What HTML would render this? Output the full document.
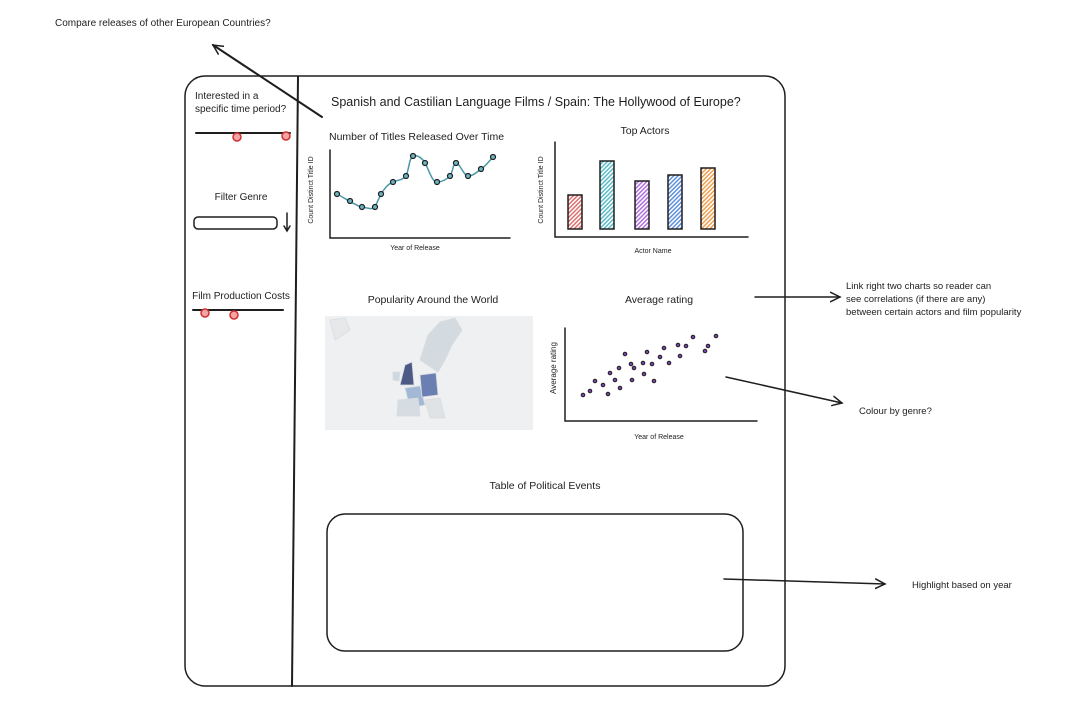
<!DOCTYPE html>
<html><head><meta charset="utf-8"><style>
body{margin:0;background:#fff;}
svg{display:block}
text{font-family:"Liberation Sans",sans-serif;fill:#1e1e1e}
</style></head><body>
<svg width="1081" height="726" viewBox="0 0 1081 726" xmlns="http://www.w3.org/2000/svg">
<defs>
<marker id="ah" markerWidth="12" markerHeight="12" refX="10" refY="6" orient="auto" markerUnits="userSpaceOnUse">
<path d="M0,1 L10,6 L0,11" fill="none" stroke="#1e1e1e" stroke-width="1.5"/></marker>
<pattern id="p1" width="3" height="3" patternUnits="userSpaceOnUse" patternTransform="rotate(45)"><rect width="3" height="3" fill="#fff"/><rect width="1.5" height="3" fill="#e07070"/></pattern>
<pattern id="p2" width="3" height="3" patternUnits="userSpaceOnUse" patternTransform="rotate(45)"><rect width="3" height="3" fill="#fff"/><rect width="1.5" height="3" fill="#5cbcc8"/></pattern>
<pattern id="p3" width="3" height="3" patternUnits="userSpaceOnUse" patternTransform="rotate(45)"><rect width="3" height="3" fill="#fff"/><rect width="1.5" height="3" fill="#b070e0"/></pattern>
<pattern id="p4" width="3" height="3" patternUnits="userSpaceOnUse" patternTransform="rotate(45)"><rect width="3" height="3" fill="#fff"/><rect width="1.5" height="3" fill="#6090e0"/></pattern>
<pattern id="p5" width="3" height="3" patternUnits="userSpaceOnUse" patternTransform="rotate(45)"><rect width="3" height="3" fill="#fff"/><rect width="1.5" height="3" fill="#f0a050"/></pattern>
</defs>
<g fill="none" stroke="#1e1e1e" stroke-width="1.5" stroke-linecap="round">
<rect x="185" y="76" width="600" height="610" rx="20"/>
<path d="M298,77 L292,686" stroke-width="2"/>
<path d="M322,117 L213,45" marker-end="url(#ah)" stroke-width="2"/>
<path d="M196,133 L290,133" stroke-width="2"/>
<path d="M193,310 L283,310" stroke-width="2"/>
<rect x="194" y="217" width="83" height="12" rx="4"/>
<path d="M287,213 L287,231 M284,226 L287,231 L290,226"/>
<path d="M330,150 L330,238 L510,238"/>
<path d="M337,194 C343,197 356,206 362,207 C368,208 372,210 375,207 L381,194 C385,188 388,184 393,182 C398,180 403,180 406,176 C409,170 409,158 413,156 C418,155 422,158 425,163 C429,170 432,182 437,182 C442,182 446,180 450,176 C453,172 453,163 456,163 C460,163 463,175 468,176 C473,176 477,172 481,169 C486,166 490,160 493,157" stroke="#4a98a8" stroke-width="1.5"/>
<path d="M555,142 L555,237 L748,237"/>
<path d="M565,328 L565,421 L757,421"/>
<rect x="327" y="514" width="416" height="137" rx="18"/>
<path d="M755,297 L840,297" marker-end="url(#ah)"/>
<path d="M726,377 L842,403" marker-end="url(#ah)"/>
<path d="M724,579 L885,584" marker-end="url(#ah)"/>
</g>
<g fill="#f2a5a5" stroke="#d03030" stroke-width="1.5">
<circle cx="237" cy="137" r="4"/><circle cx="286" cy="136" r="4"/>
<circle cx="205" cy="313" r="4"/><circle cx="234" cy="315" r="4"/>
</g>
<g fill="#6cb5c5" stroke="#1e1e1e" stroke-width="1.2">
<circle cx="337" cy="194" r="2.5"/><circle cx="350" cy="201" r="2.5"/><circle cx="362" cy="207" r="2.5"/><circle cx="375" cy="207" r="2.5"/><circle cx="381" cy="194" r="2.5"/><circle cx="393" cy="182" r="2.5"/><circle cx="406" cy="176" r="2.5"/><circle cx="413" cy="156" r="2.5"/><circle cx="425" cy="163" r="2.5"/><circle cx="437" cy="182" r="2.5"/><circle cx="450" cy="176" r="2.5"/><circle cx="456" cy="163" r="2.5"/><circle cx="468" cy="176" r="2.5"/><circle cx="481" cy="169" r="2.5"/><circle cx="493" cy="157" r="2.5"/>
</g>
<g stroke="#1e1e1e" stroke-width="1.5">
<rect x="568" y="195" width="14" height="34" fill="url(#p1)"/>
<rect x="600" y="161" width="14" height="68" fill="url(#p2)"/>
<rect x="635" y="181" width="14" height="48" fill="url(#p3)"/>
<rect x="668" y="175" width="14" height="54" fill="url(#p4)"/>
<rect x="701" y="168" width="14" height="61" fill="url(#p5)"/>
</g>
<rect x="325" y="316" width="208" height="114" fill="#eef0f1"/>
<g stroke="#d8dcdf" stroke-width="0.8">
<path d="M420,360 L428,335 L440,322 L455,318 L462,330 L452,345 L445,360 L438,372 Z" fill="#d3dbe0"/>
<path d="M330,320 L345,318 L350,330 L335,340 Z" fill="#e6e8ea"/>
<path d="M405,388 L420,386 L425,405 L410,408 Z" fill="#a2b8d4"/>
<path d="M400,385 L405,365 L412,362 L414,385 Z" fill="#4d5a85"/>
<path d="M393,372 L400,372 L399,381 L393,380 Z" fill="#d0d8df"/>
<path d="M420,375 L436,373 L438,395 L422,397 Z" fill="#6b7fb3"/>
<path d="M398,400 L418,398 L420,416 L397,416 Z" fill="#d5dde3"/>
<path d="M425,400 L440,398 L445,418 L430,418 Z" fill="#dfe3e6"/>
</g>
<g fill="#7b3fb0" stroke="#1e1e1e" stroke-width="1">
<circle cx="583" cy="395" r="1.8"/><circle cx="590" cy="391" r="1.8"/><circle cx="595" cy="381" r="1.8"/><circle cx="603" cy="385" r="1.8"/><circle cx="608" cy="394" r="1.8"/><circle cx="610" cy="373" r="1.8"/><circle cx="615" cy="380" r="1.8"/><circle cx="619" cy="368" r="1.8"/><circle cx="620" cy="388" r="1.8"/><circle cx="625" cy="354" r="1.8"/><circle cx="631" cy="364" r="1.8"/><circle cx="632" cy="380" r="1.8"/><circle cx="634" cy="368" r="1.8"/><circle cx="643" cy="363" r="1.8"/><circle cx="644" cy="374" r="1.8"/><circle cx="647" cy="352" r="1.8"/><circle cx="652" cy="364" r="1.8"/><circle cx="654" cy="381" r="1.8"/><circle cx="660" cy="357" r="1.8"/><circle cx="664" cy="348" r="1.8"/><circle cx="669" cy="363" r="1.8"/><circle cx="678" cy="345" r="1.8"/><circle cx="680" cy="356" r="1.8"/><circle cx="686" cy="346" r="1.8"/><circle cx="693" cy="337" r="1.8"/><circle cx="705" cy="351" r="1.8"/><circle cx="708" cy="346" r="1.8"/><circle cx="716" cy="336" r="1.8"/>
</g>
<text x="55" y="26" font-size="10">Compare releases of other European Countries?</text>
<text x="195" y="99" font-size="10">Interested in a</text>
<text x="195" y="112" font-size="10">specific time period?</text>
<text x="241" y="200" font-size="10" text-anchor="middle">Filter Genre</text>
<text x="241" y="299" font-size="10" text-anchor="middle">Film Production Costs</text>
<text x="331" y="106" font-size="12.5">Spanish and Castilian Language Films / Spain: The Hollywood of Europe?</text>
<text x="329" y="140" font-size="10.5">Number of Titles Released Over Time</text>
<text x="415" y="250" font-size="7" text-anchor="middle" fill="#555">Year of Release</text>
<text transform="translate(313,190) rotate(-90)" font-size="7" text-anchor="middle" fill="#555">Count Distinct Title ID</text>
<text x="645" y="134" font-size="10.5" text-anchor="middle">Top Actors</text>
<text x="653" y="253" font-size="7" text-anchor="middle" fill="#555">Actor Name</text>
<text transform="translate(543,190) rotate(-90)" font-size="7" text-anchor="middle" fill="#555">Count Distinct Title ID</text>
<text x="433" y="303" font-size="10.5" text-anchor="middle">Popularity Around the World</text>
<text x="659" y="303" font-size="10.5" text-anchor="middle">Average rating</text>
<text transform="translate(556,368) rotate(-90)" font-size="8" text-anchor="middle" fill="#555">Average rating</text>
<text x="659" y="439" font-size="7" text-anchor="middle" fill="#555">Year of Release</text>
<text x="846" y="289" font-size="9.5">Link right two charts so reader can</text>
<text x="846" y="302" font-size="9.5">see correlations (if there are any)</text>
<text x="846" y="315" font-size="9.5">between certain actors and film popularity</text>
<text x="859" y="414" font-size="9.5">Colour by genre?</text>
<text x="545" y="489" font-size="10.5" text-anchor="middle">Table of Political Events</text>
<text x="912" y="588" font-size="9.5">Highlight based on year</text>
</svg>
</body></html>
